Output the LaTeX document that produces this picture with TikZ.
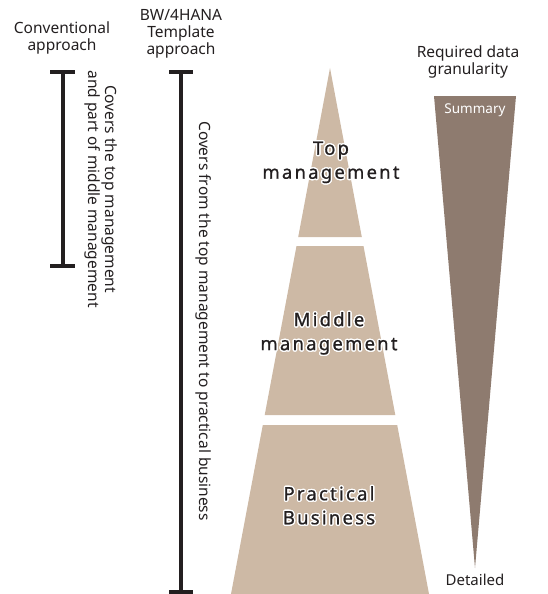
\documentclass[tikz,border=0pt]{standalone}
\usepackage{fontspec}
\setmainfont{Noto Sans}
\newfontfamily\spacedfont[LetterSpace=12,FakeBold=0.8]{Noto Sans}
\usepackage{contour}
\contourlength{1.3pt}
\definecolor{sand}{HTML}{CDB9A5}
\definecolor{taupe}{HTML}{8E7B6F}
\definecolor{ink}{HTML}{231F20}
\tikzset{
  lbl/.style={font=\fontsize{15.5}{16.8}\selectfont, text=ink, align=center, inner sep=0pt},
  lvl/.style={font=\fontsize{18.5}{24}\selectfont\spacedfont, text=ink, align=center, inner sep=0pt},
  barline/.style={line width=4pt, draw=ink},
  piece/.style={fill=sand, draw=none},
}
\begin{document}
\begin{tikzpicture}[x=1pt,y=-1pt]
\useasboundingbox (0,0) rectangle (547,594);
% headers
\node[lbl] (hconv) at (62,38) {Conventional\\approach};
\node[lbl] (hbw) at (181,34) {BW/4HANA\\Template\\approach};
\node[lbl] (hreq) at (468,62) {Required data\\granularity};
% conventional bar
\coordinate (c1) at (63,72);
\coordinate (c2) at (63,266);
\draw[barline] (c1) -- (c2);
\draw[barline] ([xshift=-13pt]c1) -- ([xshift=12pt]c1);
\draw[barline] ([xshift=-13pt]c2) -- ([xshift=12pt]c2);
\node[lbl, rotate=-90] (tconv) at (101,189) {Covers the top management\\and part of middle management};
% BW bar
\coordinate (b1) at (181,72);
\coordinate (b2) at (181,592);
\draw[barline] (b1) -- (b2);
\draw[barline] ([xshift=-12pt]b1) -- ([xshift=12pt]b1);
\draw[barline] ([xshift=-12pt]b2) -- ([xshift=12pt]b2);
\node[lbl, rotate=-90] (tbw) at (204,321) {Covers from the top management to practical business};
% pyramid
\fill[piece] (330,68) -- (361.8,237) -- (298.2,237) -- cycle;
\fill[piece] (296.5,246) -- (363.5,246) -- (395.3,415) -- (264.7,415) -- cycle;
\fill[piece] (262.8,425) -- (397.2,425) -- (429,594) -- (231,594) -- cycle;
\node[lvl] (top) at (331,163) {\contour{white}{Top}\\\contour{white}{management}};
\node[lvl] (mid) at (329,334) {\contour{white}{Middle}\\\contour{white}{management}};
\node[lvl] (prac) at (329,506) {\contour{white}{Practical}\\\contour{white}{Business}};
% granularity triangle
\fill[taupe] (434,96) -- (516,96) -- (475,568) -- cycle;
\node[font=\fontsize{13.5}{15}\selectfont, text=white, inner sep=0pt] (sum) at (475,110) {Summary};
\node[font=\fontsize{15}{17}\selectfont, text=ink, inner sep=0pt] (det) at (475,580) {Detailed};
\end{tikzpicture}
\end{document}
